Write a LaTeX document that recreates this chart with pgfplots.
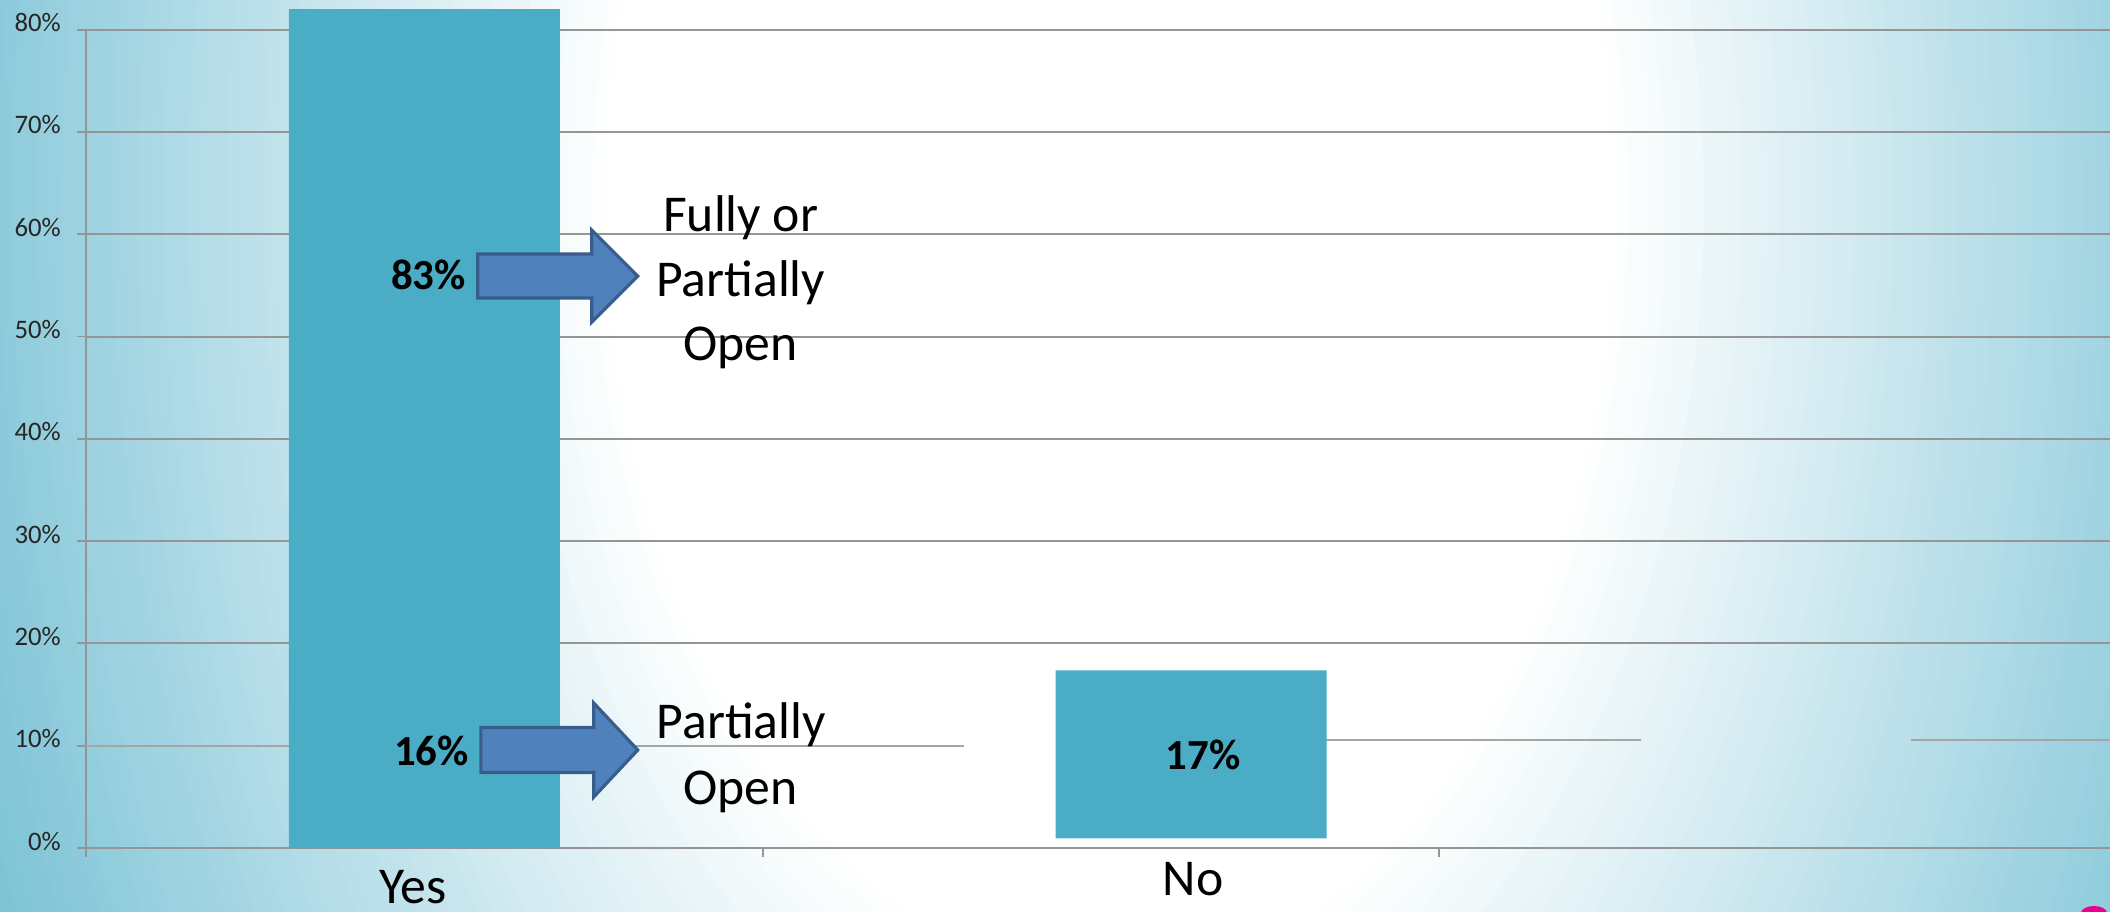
\documentclass[border=0pt]{standalone}
\usepackage{fontspec}
\setmainfont{Carlito}
\usepackage{pgfplots}
\pgfplotsset{compat=1.18}
\definecolor{barc}{HTML}{4BACC6}
\definecolor{arrf}{HTML}{4F81BD}
\definecolor{arrd}{HTML}{385D8A}
\definecolor{gridc}{HTML}{959595}
\definecolor{bgD}{HTML}{7CC3D6}
\begin{document}
\begin{tikzpicture}
\useasboundingbox (0,0) rectangle (211mm,91.1mm);
\begin{scope}
\clip (0,0) rectangle (211mm,91.1mm);
\fill[bgD] (0,0) rectangle (211mm,91.1mm);
\foreach \i in {0,...,56}{%
  \pgfmathsetmacro{\rr}{2.4-\i*0.025}%
  \pgfmathsetmacro{\tt}{max(0,min(100,(\rr-1)/1.4*100))}%
  \fill[bgD!\tt!white] (111mm,70.9mm) ellipse ({\rr*50.5mm} and {\rr*77.4mm});
}
\fill[magenta] (209.4mm,-0.2mm) ellipse (1.3mm and 0.7mm);
\end{scope}
\begin{axis}[
  at={(8.6mm,6.3mm)}, anchor=south west,
  scale only axis, width=203mm, height=81.84mm,
  xmin=-0.5, xmax=2.5, ymin=0, ymax=80,
  clip=false,
  ybar stacked, reverse stacked plots=false, bar width=27.1mm,
  axis x line*=bottom, axis y line*=left,
  axis line style={draw=gridc, line width=0.55pt, -},
  tick style={draw=gridc, line width=0.55pt},
  tick align=outside, major tick length=0.85mm,
  /pgf/number format/assume math mode=true,
  ytick={0,20,30,40,50,60,70,80},
  yticklabel={\pgfmathprintnumber{\tick}\%},
  extra y ticks={10}, extra y tick labels={10\%},
  extra y tick style={grid=none},
  ymajorgrids,
  major grid style={draw=gridc, line width=0.57pt},
  yticklabel style={font=\fontsize{7.6}{9}\selectfont, text=black!85, anchor=east, inner sep=0pt, yshift=0.7mm, xshift=-1.6mm},
  xtick={-0.5,0.5,1.5,2.5}, xticklabels={},
  extra x ticks={-0.017,1.136}, extra x tick labels={Yes,\raisebox{0.8mm}{No}},
  extra x tick style={major tick length=0pt, xticklabel style={font=\fontsize{14.7}{16}\selectfont, anchor=base, yshift=-5.5mm}},
]
\draw[gridc!85, line width=0.57pt] (axis cs:-0.5,10) -- (axis cs:0.798,10);
\draw[gridc!85, line width=0.57pt] (axis cs:1.333,10.59) -- (axis cs:1.798,10.59);
\draw[gridc!85, line width=0.57pt] (axis cs:2.197,10.59) -- (axis cs:2.6,10.59);
\addplot[draw=none, fill=none] coordinates {(0,0) (1.133,0.94)};
\addplot[fill=barc, draw=none] coordinates {(0,82.0) (1.133,16.43)};
% arrows
\filldraw[fill=arrf, draw=arrd, line width=0.9pt, line join=miter]
  (axis cs:0.0790,53.76) -- (axis cs:0.2474,53.76) -- (axis cs:0.2474,51.41) -- (axis cs:0.3154,55.91)
  -- (axis cs:0.2474,60.41) -- (axis cs:0.2474,58.06) -- (axis cs:0.0790,58.06) -- cycle;
\filldraw[fill=arrf, draw=arrd, line width=0.9pt, line join=miter]
  (axis cs:0.0835,7.38) -- (axis cs:0.2504,7.38) -- (axis cs:0.2504,4.99) -- (axis cs:0.3154,9.58)
  -- (axis cs:0.2504,14.17) -- (axis cs:0.2504,11.78) -- (axis cs:0.0835,11.78) -- cycle;
% value labels
\node[font=\bfseries\fontsize{12.2}{14}\selectfont] at (axis cs:0.006,56.0) {83\%};
\node[font=\bfseries\fontsize{12.2}{14}\selectfont] at (axis cs:0.0105,9.48) {16\%};
\node[font=\bfseries\fontsize{12.2}{14}\selectfont] at (axis cs:1.151,9.14) {17\%};
% annotation texts
\node[font=\fontsize{14.7}{17}\selectfont, anchor=base] at (axis cs:0.4675,60.22) {Fully or};
\node[font=\fontsize{14.7}{17}\selectfont, anchor=base] at (axis cs:0.4675,53.96) {Partially};
\node[font=\fontsize{14.7}{17}\selectfont, anchor=base] at (axis cs:0.4675,47.61) {Open};
\node[font=\fontsize{14.7}{17}\selectfont, anchor=base] at (axis cs:0.4682,10.75) {Partially};
\node[font=\fontsize{14.7}{17}\selectfont, anchor=base] at (axis cs:0.4675,4.30) {Open};
\end{axis}
\end{tikzpicture}
\end{document}
